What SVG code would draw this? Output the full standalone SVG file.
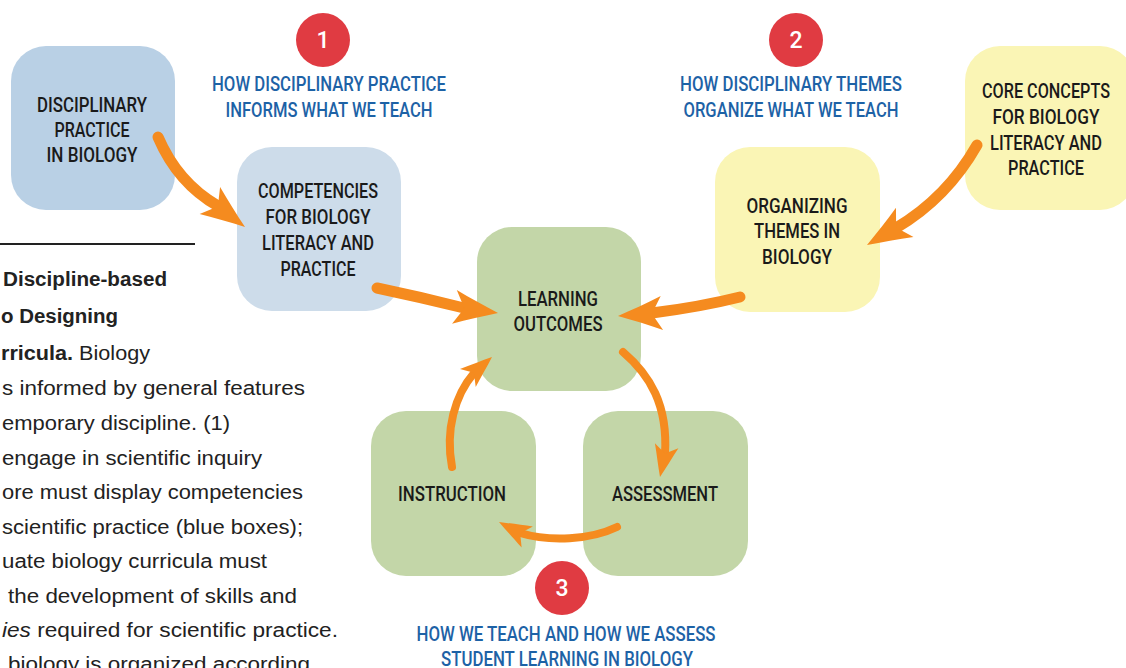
<svg xmlns="http://www.w3.org/2000/svg" width="1126" height="668" viewBox="0 0 1126 668">
<defs>
<style>
.bt{font-family:Roboto,"Liberation Sans",Arial,sans-serif;font-weight:500;font-size:19.5px;fill:#1a1a1a;text-anchor:middle}
.lb{font-family:Roboto,"Liberation Sans",Arial,sans-serif;font-weight:500;font-size:21px;fill:#1d62a6;text-anchor:middle}
.num{font-family:Roboto,"Liberation Sans",Arial,sans-serif;font-weight:500;font-size:23px;fill:#ffffff;text-anchor:middle}
.para{font-family:"Liberation Sans",Arial,sans-serif;font-size:20px;fill:#222222}
.shaft{fill:none;stroke:#f58b1f;stroke-linecap:round}
.head{fill:#f58b1f}
.blue1{fill:#b9d0e5}
.blue2{fill:#cddcea}
.green{fill:#c3d6a8}
.yellow{fill:#faf5b5}
</style>
<path id="bighead" d="M0,0 C-14,-5 -30,-11 -44,-17 L-34,0 L-44,17 C-30,11 -14,5 0,0 Z"/>
<path id="smallhead" d="M0,0 C-10,-4 -22,-8 -32,-12 L-24,0 L-32,12 C-22,8 -10,4 0,0 Z"/>
</defs>
<rect width="1126" height="668" fill="#ffffff"/>

<g id="caption">
<line x1="0" y1="244" x2="195" y2="244" stroke="#222222" stroke-width="2"/>
<text class="para" x="3" y="286" font-weight="bold" textLength="164" lengthAdjust="spacingAndGlyphs">Discipline-based</text>
<text class="para" x="1" y="323" font-weight="bold" textLength="117" lengthAdjust="spacingAndGlyphs">o Designing</text>
<text class="para" x="1" y="360" textLength="149" lengthAdjust="spacingAndGlyphs"><tspan font-weight="bold">rricula.</tspan> Biology</text>
<text class="para" x="2" y="395" textLength="303" lengthAdjust="spacingAndGlyphs">s informed by general features</text>
<text class="para" x="2" y="430" textLength="228" lengthAdjust="spacingAndGlyphs">emporary discipline. (1)</text>
<text class="para" x="2" y="465" textLength="260" lengthAdjust="spacingAndGlyphs">engage in scientific inquiry</text>
<text class="para" x="2" y="499" textLength="301" lengthAdjust="spacingAndGlyphs">ore must display competencies</text>
<text class="para" x="2" y="534" textLength="301" lengthAdjust="spacingAndGlyphs">scientific practice (blue boxes);</text>
<text class="para" x="2" y="568" textLength="265" lengthAdjust="spacingAndGlyphs">uate biology curricula must</text>
<text class="para" x="8" y="603" textLength="289" lengthAdjust="spacingAndGlyphs">the development of skills and</text>
<text class="para" x="2" y="637" textLength="336" lengthAdjust="spacingAndGlyphs"><tspan font-style="italic">ies</tspan> required for scientific practice.</text>
<text class="para" x="8" y="671" textLength="302" lengthAdjust="spacingAndGlyphs">biology is organized according</text>
</g>

<g id="node-disciplinary-practice">
<rect class="blue1" x="11" y="46" width="164" height="164" rx="35"/>
<text class="bt" x="92" y="112" textLength="110" lengthAdjust="spacingAndGlyphs">DISCIPLINARY</text>
<text class="bt" x="92" y="137" textLength="75" lengthAdjust="spacingAndGlyphs">PRACTICE</text>
<text class="bt" x="92" y="162" textLength="91" lengthAdjust="spacingAndGlyphs">IN BIOLOGY</text>
</g>

<g id="node-competencies">
<rect class="blue2" x="237" y="147" width="164" height="164" rx="35"/>
<text class="bt" x="318" y="198" textLength="120" lengthAdjust="spacingAndGlyphs">COMPETENCIES</text>
<text class="bt" x="318" y="224" textLength="105" lengthAdjust="spacingAndGlyphs">FOR BIOLOGY</text>
<text class="bt" x="318" y="250" textLength="112" lengthAdjust="spacingAndGlyphs">LITERACY AND</text>
<text class="bt" x="318" y="276" textLength="75" lengthAdjust="spacingAndGlyphs">PRACTICE</text>
</g>

<g id="node-learning-outcomes">
<rect class="green" x="477" y="227" width="164" height="164" rx="35"/>
<text class="bt" x="558" y="306" textLength="80" lengthAdjust="spacingAndGlyphs">LEARNING</text>
<text class="bt" x="558" y="331" textLength="89" lengthAdjust="spacingAndGlyphs">OUTCOMES</text>
</g>

<g id="node-instruction">
<rect class="green" x="371" y="411" width="165" height="165" rx="35"/>
<text class="bt" x="452" y="501" textLength="108" lengthAdjust="spacingAndGlyphs">INSTRUCTION</text>
</g>

<g id="node-assessment">
<rect class="green" x="583" y="411" width="165" height="165" rx="35"/>
<text class="bt" x="665" y="501" textLength="106" lengthAdjust="spacingAndGlyphs">ASSESSMENT</text>
</g>

<g id="node-organizing-themes">
<rect class="yellow" x="715" y="147" width="165" height="165" rx="35"/>
<text class="bt" x="797" y="213" textLength="101" lengthAdjust="spacingAndGlyphs">ORGANIZING</text>
<text class="bt" x="797" y="238" textLength="86" lengthAdjust="spacingAndGlyphs">THEMES IN</text>
<text class="bt" x="797" y="264" textLength="70" lengthAdjust="spacingAndGlyphs">BIOLOGY</text>
</g>

<g id="node-core-concepts">
<rect class="yellow" x="965" y="46" width="170" height="164" rx="35"/>
<text class="bt" x="1046" y="98" textLength="128" lengthAdjust="spacingAndGlyphs">CORE CONCEPTS</text>
<text class="bt" x="1046" y="124" textLength="107" lengthAdjust="spacingAndGlyphs">FOR BIOLOGY</text>
<text class="bt" x="1046" y="150" textLength="112" lengthAdjust="spacingAndGlyphs">LITERACY AND</text>
<text class="bt" x="1046" y="175" textLength="76" lengthAdjust="spacingAndGlyphs">PRACTICE</text>
</g>

<g id="label-1">
<circle cx="323" cy="40" r="27" fill="#e03b42"/>
<text class="num" x="323" y="48">1</text>
<text class="lb" x="329" y="91" textLength="234" lengthAdjust="spacingAndGlyphs">HOW DISCIPLINARY PRACTICE</text>
<text class="lb" x="329" y="117" textLength="207" lengthAdjust="spacingAndGlyphs">INFORMS WHAT WE TEACH</text>
</g>

<g id="label-2">
<circle cx="796" cy="40" r="27" fill="#e03b42"/>
<text class="num" x="796" y="48">2</text>
<text class="lb" x="791" y="91" textLength="222" lengthAdjust="spacingAndGlyphs">HOW DISCIPLINARY THEMES</text>
<text class="lb" x="791" y="117" textLength="215" lengthAdjust="spacingAndGlyphs">ORGANIZE WHAT WE TEACH</text>
</g>

<g id="label-3">
<circle cx="562" cy="588" r="27" fill="#e03b42"/>
<text class="num" x="562" y="596">3</text>
<text class="lb" x="566" y="641" textLength="299" lengthAdjust="spacingAndGlyphs">HOW WE TEACH AND HOW WE ASSESS</text>
<text class="lb" x="567" y="666" textLength="252" lengthAdjust="spacingAndGlyphs">STUDENT LEARNING IN BIOLOGY</text>
</g>

<g id="connectors">
<path class="shaft" stroke-width="11" d="M158,137 C170,165 190,190 218,206"/>
<use href="#bighead" class="head" transform="translate(245,227) rotate(37)"/>
<path class="shaft" stroke-width="11" d="M377,288 Q420,297 464,308"/>
<use href="#bighead" class="head" transform="translate(498,313) rotate(8)"/>
<path class="shaft" stroke-width="11" d="M740,297 Q700,307 652,313"/>
<use href="#bighead" class="head" transform="translate(618,316) rotate(176)"/>
<path class="shaft" stroke-width="11" d="M977,145 C960,175 935,205 896,228"/>
<use href="#bighead" class="head" transform="translate(867,245) rotate(149)"/>
<path class="shaft" stroke-width="8" d="M452,467 C445,430 455,395 474,373"/>
<use href="#smallhead" class="head" transform="translate(492,357) rotate(-41)"/>
<path class="shaft" stroke-width="8" d="M623,352 C650,375 668,405 665,454"/>
<use href="#smallhead" class="head" transform="translate(660,477) rotate(102)"/>
<path class="shaft" stroke-width="8" d="M617,527 C590,540 550,542 520,533"/>
<use href="#smallhead" class="head" transform="translate(499,522) rotate(208)"/>
</g>
</svg>
